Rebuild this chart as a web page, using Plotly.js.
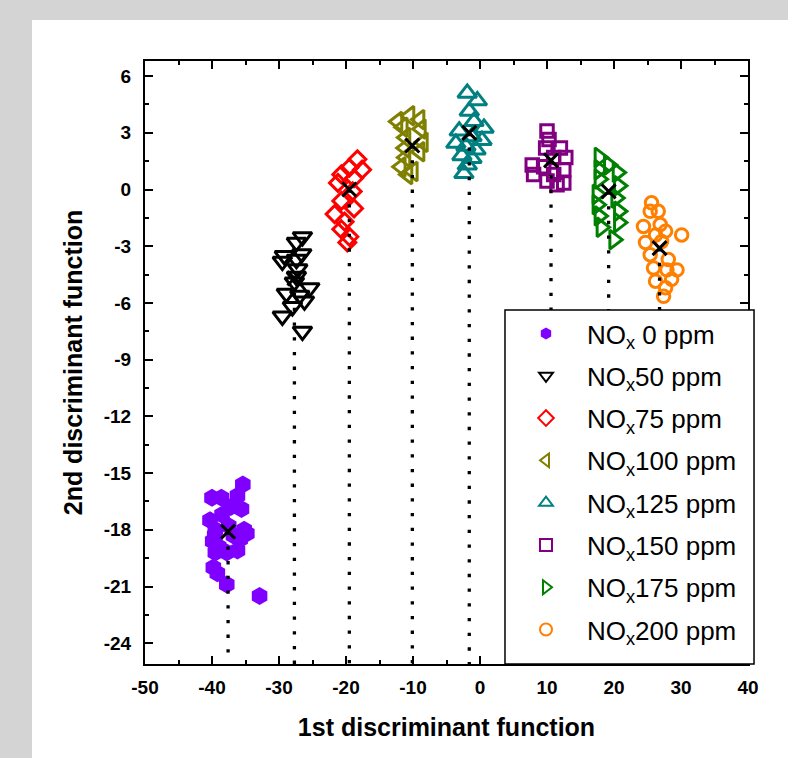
<!DOCTYPE html>
<html>
<head>
<meta charset="utf-8">
<script src="https://cdn.plot.ly/plotly-3.0.1.min.js"></script>
<style>
  html, body { margin: 0; padding: 0; background: #d4d4d4; width: 788px; height: 758px; overflow: hidden; }
  #chart { position: absolute; left: 32px; top: 20px; width: 756px; height: 738px; background: #ffffff; }
</style>
</head>
<body>
<div id="chart"></div>
<script>
// ---- data ----
var seriesNames = ["NO<sub>x</sub> 0 ppm", "NO<sub>x</sub>50 ppm", "NO<sub>x</sub>75 ppm", "NO<sub>x</sub>100 ppm",
                   "NO<sub>x</sub>125 ppm", "NO<sub>x</sub>150 ppm", "NO<sub>x</sub>175 ppm", "NO<sub>x</sub>200 ppm"];

var x0 = [-35.4, -36.2, -40.0, -38.6, -35.6, -37.2, -40.3, -39.5, -37.5, -35.2, -34.8, -39.6, -39.9, -39.0, -36.2, -37.8, -35.8, -39.5, -39.8, -39.2, -37.8, -32.9, -38.5, -36.8];
var y0 = [-15.6, -16.2, -16.3, -16.3, -16.9, -16.8, -17.5, -18.0, -17.8, -18.0, -18.2, -18.3, -18.6, -18.9, -19.1, -19.2, -18.5, -19.2, -20.0, -20.3, -20.9, -21.5, -17.2, -18.3];

var x50 = [-26.5, -27.4, -26.6, -29.2, -27.4, -29.5, -27.2, -27.4, -27.7, -25.4, -28.9, -26.9, -26.2, -28.0, -29.5, -26.5];
var y50 = [-2.5, -2.8, -3.4, -3.5, -3.7, -3.8, -4.2, -4.6, -4.9, -5.2, -5.5, -5.6, -5.9, -6.2, -6.7, -7.5];

var x75 = [-18.3, -19.5, -17.6, -20.7, -18.8, -21.2, -19.0, -20.7, -18.8, -21.7, -20.2, -20.7, -19.5, -19.8];
var y75 = [1.6, 1.15, 1.05, 0.8, 0.6, 0.35, -0.1, -0.6, -1.0, -1.3, -1.7, -2.1, -2.5, -2.8];

var x100 = [-12.3, -10.5, -9.0, -11.5, -8.8, -11.1, -8.5, -11.2, -9.0, -11.1, -11.8, -10.0, -10.8];
var y100 = [3.6, 3.9, 3.7, 3.3, 3.2, 2.75, 2.5, 2.2, 2.0, 1.7, 1.2, 0.95, 0.8];

var x125 = [-1.9, -0.4, -1.6, -0.9, 0.6, -3.1, -1.2, 0.3, -3.6, -2.1, -0.6, -2.7, -1.2, -1.9, -2.4];
var y125 = [5.1, 4.7, 4.15, 3.6, 3.25, 3.1, 2.8, 2.6, 2.45, 2.3, 2.1, 1.8, 1.65, 1.3, 0.85];

var x150 = [10.0, 10.3, 9.8, 12.0, 12.8, 7.8, 9.5, 12.5, 8.0, 11.0, 10.0, 12.5, 11.5, 11.0];
var y150 = [3.1, 2.65, 2.2, 2.2, 1.7, 1.3, 1.2, 1.05, 0.8, 0.8, 0.45, 0.35, 0.25, 1.7];

var x175 = [17.8, 19.2, 20.5, 17.8, 17.8, 20.7, 17.5, 20.3, 17.5, 20.7, 17.8, 20.7, 18.1, 20.0];
var y175 = [1.7, 1.3, 0.9, 1.05, 0.55, 0.2, -0.25, -0.45, -0.8, -1.15, -1.4, -1.75, -2.0, -2.65];

var x200 = [25.6, 26.6, 25.4, 24.4, 26.9, 27.7, 26.2, 30.1, 24.7, 27.1, 25.4, 28.1, 25.9, 27.9, 29.4, 28.6, 26.2, 27.7, 27.4];
var y200 = [-0.7, -1.15, -1.15, -1.95, -1.85, -2.2, -2.4, -2.4, -2.8, -2.75, -3.45, -3.7, -4.15, -4.25, -4.25, -4.75, -4.85, -5.2, -5.65];

// group centroids (black crosses) and the dotted drop lines
var centroidX = [-37.6, -27.7, -19.5, -10.1, -1.6, 10.6, 19.2, 26.8];
var centroidY = [-18.1, -4.7, 0.0, 2.33, 3.0, 1.54, -0.1, -3.1];

var xTickVals = [-50, -40, -30, -20, -10, 0, 10, 20, 30, 40];
var xTickText = ["-50", "-40", "-30", "-20", "-10", "0", "10", "20", "30", "40"];
var yTickVals = [6, 3, 0, -3, -6, -9, -12, -15, -18, -21, -24];
var yTickText = ["6", "3", "0", "-3", "-6", "-9", "-12", "-15", "-18", "-21", "-24"];

var xRange = [-50, 40];
var yRange = [-25.1, 6.8];

// ---- styles ----
var xs = [x0, x50, x75, x100, x125, x150, x175, x200];
var ys = [y0, y50, y75, y100, y125, y150, y175, y200];
var symbols = ["hexagon", "triangle-down-open", "diamond-open", "triangle-left-open",
               "triangle-up-open", "square-open", "triangle-right-open", "circle-open"];
var colors = ["#8000ff", "#000000", "#ff0000", "#808000", "#008080", "#800080", "#008000", "#ff8000"];
var sizes = [18, 16.5, 13, 16.5, 16.5, 12.5, 16.5, 12.5];

var FONT = "Arial, 'Liberation Sans', sans-serif";
var traces = [];
for (var i = 0; i < xs.length; i++) {
  traces.push({
    type: "scatter", mode: "markers",
    x: xs[i], y: ys[i],
    name: seriesNames[i],
    legendgroup: "g" + i,
    marker: {
      symbol: symbols[i], size: sizes[i], color: colors[i],
      line: { color: colors[i], width: i === 0 ? 0 : 3 }
    },
    hoverinfo: "x+y"
  });
}
// dotted drop lines from each centroid to the bottom axis
for (var j = 0; j < centroidX.length; j++) {
  traces.push({
    type: "scatter", mode: "lines",
    x: [centroidX[j], centroidX[j]], y: [centroidY[j], yRange[0]],
    line: { color: "#000000", width: 3.3, dash: "3.3px,11.4px" },
    showlegend: false, hoverinfo: "skip"
  });
}
traces.push({
  type: "scatter", mode: "markers",
  x: centroidX, y: centroidY,
  marker: { symbol: "x-thin", size: 14, color: "#000000", line: { color: "#000000", width: 3 } },
  showlegend: false, hoverinfo: "x+y"
});

var axisCommon = {
  showline: true, linecolor: "#000000", linewidth: 2,
  mirror: "ticks", ticks: "inside", ticklen: 8, tickwidth: 2, tickcolor: "#000000",
  showgrid: false, zeroline: false,
  tickmode: "array",
  tickfont: { family: FONT, size: 19, color: "#000000", weight: "bold" }
};

var legendLeft = 0.597, legendTop = 0.587;

var layout = {
  width: 756, height: 738,
  margin: { l: 113, r: 40, t: 41, b: 94 },
  paper_bgcolor: "#ffffff", plot_bgcolor: "#ffffff",
  showlegend: true,
  xaxis: Object.assign({}, axisCommon, {
    range: xRange, tickvals: xTickVals, ticktext: xTickText,
    minor: { tickmode: "linear", tick0: -45, dtick: 10, ticks: "inside", ticklen: 4, tickwidth: 2, tickcolor: "#000000" },
    ticklabelstandoff: 5,
    title: { text: "1st discriminant function", font: { family: FONT, size: 25, color: "#000000", weight: "bold" }, standoff: 22 }
  }),
  yaxis: Object.assign({}, axisCommon, {
    range: yRange, tickvals: yTickVals, ticktext: yTickText,
    minor: { tickmode: "linear", tick0: -22.5, dtick: 3, ticks: "inside", ticklen: 4, tickwidth: 2, tickcolor: "#000000" },
    ticklabelstandoff: 8,
    title: { text: "2nd discriminant function", font: { family: FONT, size: 25, color: "#000000", weight: "bold" }, standoff: 14 }
  }),
  shapes: [{
    type: "rect", xref: "paper", yref: "paper", layer: "above",
    x0: legendLeft, x1: 1.01, y0: 0, y1: legendTop,
    fillcolor: "#ffffff", line: { color: "#000000", width: 1.5 }
  }],
  legend: {
    x: legendLeft, y: legendTop, xanchor: "left", yanchor: "top",
    bgcolor: "rgba(0,0,0,0)", borderwidth: 0,
    font: { family: FONT, size: 26, color: "#000000" },
    itemsizing: "constant", itemwidth: 72,
    traceorder: "grouped", tracegroupgap: 5.5
  }
};

Plotly.newPlot("chart", traces, layout, { displayModeBar: false, staticPlot: true });
</script>
</body>
</html>
